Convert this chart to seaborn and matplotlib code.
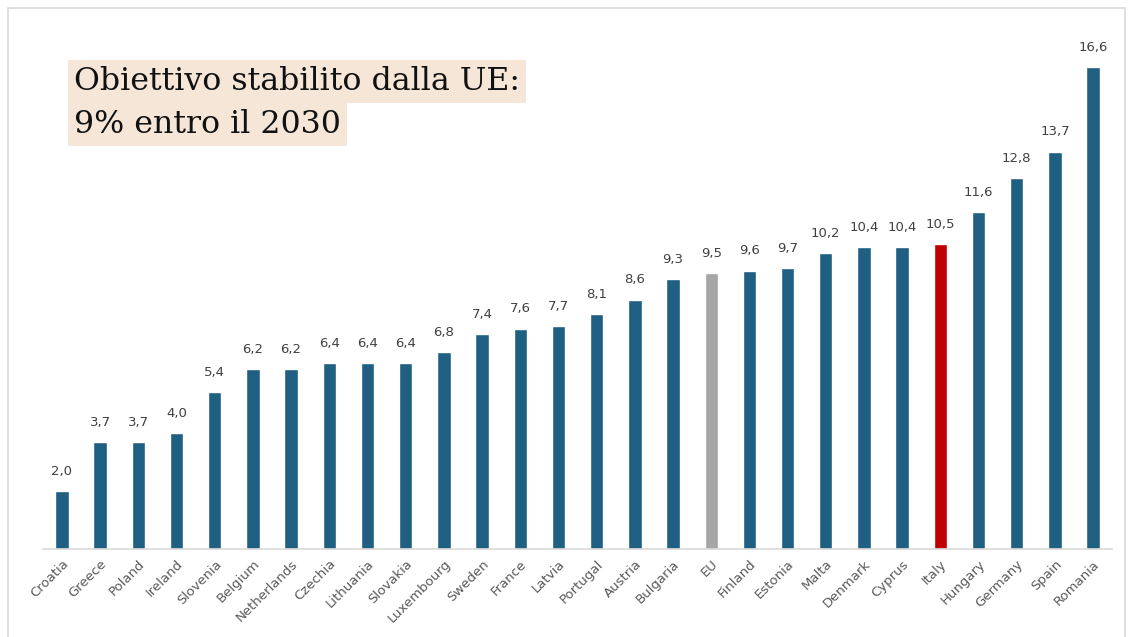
import matplotlib
matplotlib.use("Agg")
import matplotlib.pyplot as plt
import seaborn as sns
import pandas as pd

# Data
countries = ["Croatia", "Greece", "Poland", "Ireland", "Slovenia", "Belgium",
             "Netherlands", "Czechia", "Lithuania", "Slovakia", "Luxembourg",
             "Sweden", "France", "Latvia", "Portugal", "Austria", "Bulgaria",
             "EU", "Finland", "Estonia", "Malta", "Denmark", "Cyprus", "Italy",
             "Hungary", "Germany", "Spain", "Romania"]
values = [2.0, 3.7, 3.7, 4.0, 5.4, 6.2, 6.2, 6.4, 6.4, 6.4, 6.8, 7.4, 7.6,
          7.7, 8.1, 8.6, 9.3, 9.5, 9.6, 9.7, 10.2, 10.4, 10.4, 10.5, 11.6,
          12.8, 13.7, 16.6]
title_lines = ["Obiettivo stabilito dalla UE:", "9% entro il 2030"]

df = pd.DataFrame({"country": countries, "value": values})

blue = "#1F5F82"
colors = {c: blue for c in countries}
colors["EU"] = "#A6A6A6"
colors["Italy"] = "#C00000"

sns.set_style("white")

fig = plt.figure(figsize=(11.28, 6.37), dpi=100)
ax = fig.add_axes([0.038, 0.138, 0.948, 0.82])

sns.barplot(data=df, x="country", y="value", hue="country", palette=colors,
            legend=False, width=0.35, ax=ax, saturation=1)

ax.set_ylim(0, 18.0)
ax.set_xlim(-0.5, len(countries) - 0.5)
ax.set_xlabel("")
ax.set_ylabel("")
ax.set_yticks([])

# value labels
for i, v in enumerate(values):
    ax.text(i, v + 0.45, f"{v:.1f}".replace(".", ","), ha="center", va="bottom",
            fontsize=9.5, color="#404040")

ax.set_xticks(range(len(countries)))
ax.set_xticklabels(countries, rotation=45, ha="right", rotation_mode="anchor",
                   fontsize=9.5, color="#595959")
ax.tick_params(axis="x", length=0, pad=6)

for s in ["top", "right", "left"]:
    ax.spines[s].set_visible(False)
ax.spines["bottom"].set_color("#D9D9D9")
ax.spines["bottom"].set_linewidth(1.2)

# title, highlighted line by line
for k, line in enumerate(title_lines):
    fig.text(0.066, 0.872 - k * 0.0675, line, fontsize=22.8,
             family="DejaVu Serif", color="#111111", va="center", ha="left",
             bbox=dict(facecolor="#F5E6D8", edgecolor="none", pad=4.4))

# chart frame
fig.patches.append(plt.Rectangle((0.007, -0.01), 0.99, 0.998, transform=fig.transFigure,
                                 fill=False, edgecolor="#D9D9D9", linewidth=1.2))

fig.savefig("out.png", dpi=100)
